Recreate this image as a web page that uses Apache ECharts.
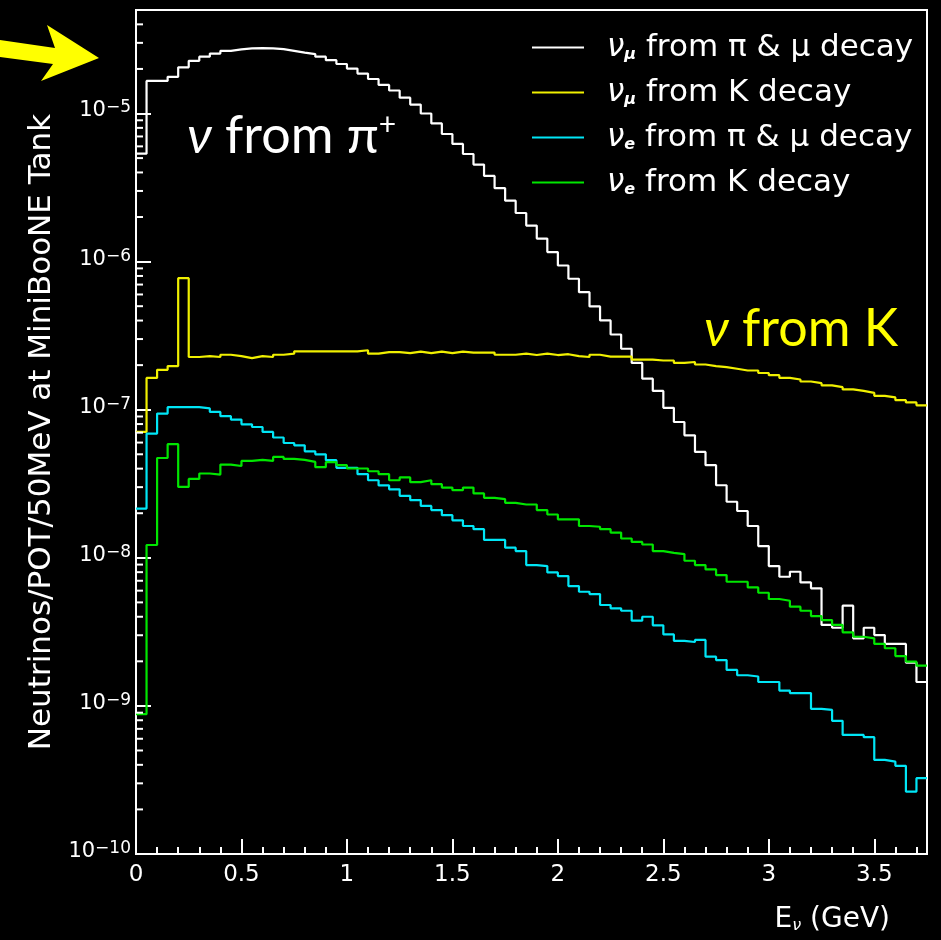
<!DOCTYPE html>
<html>
<head>
<meta charset="utf-8">
<script src="https://cdn.jsdelivr.net/npm/echarts@6/dist/echarts.min.js"></script>
<style>
  html, body { margin: 0; padding: 0; background: #000; }
  #chart { width: 941px; height: 940px; }
</style>
</head>
<body>
<div id="chart"></div>
<script>
// Neutrino flux per 50 MeV bin, 0 - 3.75 GeV (75 bins)
const binWidth = 0.05; // GeV
const xMax = 3.75;
const yMin = 1e-10;
const yMax = 5e-5;
const yDecades = [-10, -9, -8, -7, -6, -5];
const xTickLabels = ['0', '0.5', '1', '1.5', '2', '2.5', '3', '3.5'];

const numuPiMu = [
  5.36e-6, 1.66e-5, 1.66e-5, 1.77e-5, 2.05e-5, 2.27e-5, 2.42e-5, 2.54e-5, 2.65e-5, 2.71e-5,
  2.75e-5, 2.76e-5, 2.75e-5, 2.72e-5, 2.65e-5, 2.58e-5, 2.52e-5, 2.42e-5, 2.29e-5, 2.16e-5,
  2.01e-5, 1.86e-5, 1.71e-5, 1.56e-5, 1.43e-5, 1.28e-5, 1.15e-5, 1.00e-5, 8.57e-6, 7.27e-6,
  6.23e-6, 5.33e-6, 4.52e-6, 3.79e-6, 3.13e-6, 2.58e-6, 2.13e-6, 1.75e-6, 1.43e-6, 1.16e-6,
  9.41e-7, 7.66e-7, 6.22e-7, 4.98e-7, 4.01e-7, 3.22e-7, 2.58e-7, 2.07e-7, 1.62e-7, 1.34e-7,
  1.03e-7, 8.26e-8, 6.71e-8, 5.19e-8, 4.22e-8, 3.09e-8, 2.39e-8, 2.07e-8, 1.64e-8, 1.20e-8,
  8.79e-9, 7.45e-9, 8.05e-9, 6.82e-9, 6.22e-9, 3.52e-9, 3.37e-9, 4.75e-9, 2.86e-9, 3.37e-9,
  3.01e-9, 2.62e-9, 2.62e-9, 1.96e-9, 1.45e-9
];

const numuK = [
  7.09e-8, 1.64e-7, 1.86e-7, 1.97e-7, 7.73e-7, 2.27e-7, 2.30e-7, 2.27e-7, 2.35e-7, 2.30e-7,
  2.23e-7, 2.30e-7, 2.27e-7, 2.35e-7, 2.39e-7, 2.48e-7, 2.48e-7, 2.48e-7, 2.48e-7, 2.48e-7,
  2.48e-7, 2.52e-7, 2.39e-7, 2.45e-7, 2.45e-7, 2.41e-7, 2.47e-7, 2.41e-7, 2.47e-7, 2.41e-7,
  2.47e-7, 2.43e-7, 2.43e-7, 2.43e-7, 2.35e-7, 2.35e-7, 2.39e-7, 2.34e-7, 2.39e-7, 2.34e-7,
  2.37e-7, 2.30e-7, 2.27e-7, 2.35e-7, 2.28e-7, 2.28e-7, 2.28e-7, 2.18e-7, 2.18e-7, 2.15e-7,
  2.15e-7, 2.07e-7, 2.10e-7, 2.02e-7, 1.97e-7, 1.94e-7, 1.89e-7, 1.84e-7, 1.84e-7, 1.77e-7,
  1.71e-7, 1.64e-7, 1.60e-7, 1.55e-7, 1.51e-7, 1.46e-7, 1.42e-7, 1.37e-7, 1.34e-7, 1.30e-7,
  1.24e-7, 1.21e-7, 1.16e-7, 1.12e-7, 1.07e-7
];

const nuePiMu = [
  2.15e-8, 6.90e-8, 9.42e-8, 1.04e-7, 1.04e-7, 1.04e-7, 1.02e-7, 9.66e-8, 9.04e-8, 8.58e-8,
  7.97e-8, 7.64e-8, 7.08e-8, 6.49e-8, 5.96e-8, 5.75e-8, 5.24e-8, 5.00e-8, 4.56e-8, 4.05e-8,
  4.05e-8, 3.67e-8, 3.34e-8, 3.08e-8, 2.90e-8, 2.62e-8, 2.45e-8, 2.24e-8, 2.10e-8, 1.94e-8,
  1.79e-8, 1.64e-8, 1.56e-8, 1.32e-8, 1.32e-8, 1.17e-8, 1.11e-8, 8.93e-9, 8.79e-9, 7.97e-9,
  7.53e-9, 6.44e-9, 5.90e-9, 5.69e-9, 4.80e-9, 4.56e-9, 4.39e-9, 3.76e-9, 4.00e-9, 3.50e-9,
  3.04e-9, 2.75e-9, 2.70e-9, 2.79e-9, 2.15e-9, 2.04e-9, 1.75e-9, 1.61e-9, 1.58e-9, 1.45e-9,
  1.45e-9, 1.27e-9, 1.22e-9, 1.22e-9, 9.55e-10, 9.39e-10, 7.93e-10, 6.37e-10, 6.37e-10, 6.15e-10,
  4.32e-10, 4.21e-10, 3.94e-10, 2.64e-10, 3.25e-10
];

const nueK = [
  8.79e-10, 1.22e-8, 4.72e-8, 5.85e-8, 3.01e-8, 3.41e-8, 3.71e-8, 3.65e-8, 4.26e-8, 4.17e-8,
  4.51e-8, 4.58e-8, 4.51e-8, 4.80e-8, 4.65e-8, 4.58e-8, 4.44e-8, 4.09e-8, 4.42e-8, 4.22e-8,
  4.01e-8, 4.01e-8, 3.84e-8, 3.67e-8, 3.34e-8, 3.49e-8, 3.24e-8, 3.34e-8, 3.14e-8, 2.98e-8,
  2.86e-8, 2.98e-8, 2.72e-8, 2.54e-8, 2.49e-8, 2.35e-8, 2.29e-8, 2.29e-8, 2.10e-8, 1.96e-8,
  1.82e-8, 1.82e-8, 1.64e-8, 1.62e-8, 1.56e-8, 1.48e-8, 1.35e-8, 1.28e-8, 1.23e-8, 1.11e-8,
  1.08e-8, 1.06e-8, 9.55e-9, 8.93e-9, 8.35e-9, 7.64e-9, 6.89e-9, 6.89e-9, 6.31e-9, 5.81e-9,
  5.27e-9, 5.13e-9, 4.68e-9, 4.39e-9, 4.04e-9, 3.80e-9, 3.52e-9, 3.14e-9, 2.93e-9, 2.86e-9,
  2.62e-9, 2.45e-9, 2.17e-9, 1.99e-9, 1.87e-9
];

const seriesNames = [
  'ν_μ from π & μ decay',
  'ν_μ from K decay',
  'ν_e from π & μ decay',
  'ν_e from K decay'
];
const seriesColors = ['#ffffff', '#f0f000', '#00e6f6', '#00e600'];

const FONT = 'DejaVu Sans';

// Histogram contents as left-edge points plus the closing edge, drawn as steps
function histSteps(values) {
  const pts = values.map((v, i) => [+(i * binWidth).toFixed(2), v]);
  pts.push([+(values.length * binWidth).toFixed(2), values[values.length - 1]]);
  return pts;
}

// Log-axis minor ticks at 2..9 x 10^n
const yMinorTicks = [];
yDecades.forEach(d => {
  for (let m = 2; m <= 9; m++) {
    const v = m * Math.pow(10, d);
    if (v < yMax) yMinorTicks.push([0, v]);
  }
});

function legendLabel(name) {
  const m = name.match(/^ν_(\S+)(.*)$/);
  if (!m) return '{t|' + name + '}';
  return '{g|ν}{s|' + m[1] + '}{t|' + m[2] + '}';
}

const chart = echarts.init(document.getElementById('chart'), null, { renderer: 'canvas' });

const histSeries = [numuPiMu, numuK, nuePiMu, nueK].map((vals, i) => ({
  name: seriesNames[i],
  type: 'line',
  step: 'end',
  data: histSteps(vals),
  showSymbol: false,
  symbol: 'none',
  color: seriesColors[i],
  lineStyle: { color: seriesColors[i], width: 2.2 },
  z: 3 + i,
  silent: true
}));

chart.setOption({
  animation: false,
  backgroundColor: '#000000',
  grid: {
    left: 136, right: 14, top: 10, bottom: 86,
    show: true, borderColor: '#ffffff', borderWidth: 2, backgroundColor: 'transparent'
  },
  legend: {
    orient: 'vertical',
    left: 527,
    top: 27,
    itemWidth: 52,
    itemHeight: 2,
    itemGap: 14,
    icon: 'rect',
    data: seriesNames,
    formatter: legendLabel,
    textStyle: {
      color: '#ffffff',
      fontFamily: FONT,
      fontSize: 31,
      lineHeight: 30,
      padding: [0, 0, 0, 18],
      rich: {
        g: { fontFamily: FONT, fontSize: 31, lineHeight: 30, fontStyle: 'italic', color: '#ffffff' },
        s: { fontFamily: FONT, fontSize: 16, lineHeight: 30, fontStyle: 'italic', fontWeight: 'bold', color: '#ffffff', verticalAlign: 'bottom', padding: [13, 0, 0, 0] },
        t: { fontFamily: FONT, fontSize: 31, lineHeight: 30, color: '#ffffff' }
      }
    }
  },
  xAxis: {
    type: 'value',
    min: 0,
    max: xMax,
    interval: 0.5,
    name: '{a|E}{s|ν}{a| (GeV)}',
    nameLocation: 'end',
    nameGap: -37,
    nameTextStyle: {
      align: 'right',
      verticalAlign: 'top',
      padding: [52, 0, 0, 0],
      rich: {
        a: { fontFamily: FONT, fontSize: 28, color: '#ffffff' },
        s: { fontFamily: FONT, fontSize: 16, fontStyle: 'italic', color: '#ffffff', verticalAlign: 'bottom', padding: [12, 0, 0, 0] }
      }
    },
    axisLine: { show: true, lineStyle: { color: '#ffffff', width: 2 } },
    axisTick: { show: true, inside: true, length: 15, lineStyle: { color: '#ffffff', width: 2 } },
    minorTick: { show: true, splitNumber: 5, length: 7, lineStyle: { color: '#ffffff', width: 2 } },
    splitLine: { show: false },
    axisLabel: {
      color: '#ffffff',
      fontFamily: FONT,
      fontSize: 23,
      margin: 10,
      showMaxLabel: false,
      formatter: v => {
        const idx = Math.round(v / 0.5);
        return Math.abs(v - idx * 0.5) < 1e-9 && xTickLabels[idx] !== undefined ? xTickLabels[idx] : '';
      }
    }
  },
  yAxis: {
    type: 'log',
    logBase: 10,
    min: yMin,
    max: yMax,
    name: 'Neutrinos/POT/50MeV at MiniBooNE Tank',
    nameLocation: 'middle',
    nameGap: 78,
    nameTextStyle: { color: '#ffffff', fontFamily: FONT, fontSize: 31 },
    axisLine: { show: true, lineStyle: { color: '#ffffff', width: 2 } },
    axisTick: { show: true, inside: true, length: 15, lineStyle: { color: '#ffffff', width: 2 } },
    splitLine: { show: false },
    axisLabel: {
      color: '#ffffff',
      fontFamily: FONT,
      fontSize: 21,
      margin: 5,
      padding: [0, 0, 6, 0],
      showMaxLabel: false,
      formatter: v => {
        const e = Math.round(Math.log10(v));
        if (Math.abs(v / Math.pow(10, e) - 1) > 1e-6) return '';
        return '{b|10}{e|' + String(e).replace('-', '−') + '}';
      },
      rich: {
        b: { fontFamily: FONT, fontSize: 21, lineHeight: 22, color: '#ffffff', verticalAlign: 'bottom' },
        e: { fontFamily: FONT, fontSize: 17, lineHeight: 17, color: '#ffffff', verticalAlign: 'top' }
      }
    }
  },
  series: [
    {
      name: 'minor ticks',
      type: 'custom',
      data: yMinorTicks,
      silent: true,
      clip: false,
      z: 10,
      renderItem: (params, api) => {
        const p = api.coord([0, api.value(1)]);
        return {
          type: 'line',
          shape: { x1: p[0], y1: p[1], x2: p[0] + 7, y2: p[1] },
          style: { stroke: '#ffffff', lineWidth: 2 }
        };
      }
    },
    ...histSeries
  ],
  graphic: [
    {
      type: 'polygon',
      shape: { points: [[0, 40], [55, 48], [47, 25], [99, 58], [41, 81], [53, 64], [0, 57]] },
      style: { fill: '#ffff00' },
      silent: true
    },
    {
      type: 'text',
      left: 187,
      top: 110,
      silent: true,
      style: {
        text: '{n|ν}{a| from π}{p|+}',
        rich: {
          n: { fontFamily: 'Lato', fontSize: 52, fontStyle: 'italic', fill: '#ffffff' },
          a: { fontFamily: 'Lato', fontSize: 52, fill: '#ffffff' },
          p: { fontFamily: 'Lato', fontSize: 30, fill: '#ffffff', verticalAlign: 'top' }
        }
      }
    },
    {
      type: 'text',
      left: 704,
      top: 303,
      silent: true,
      style: {
        text: '{n|ν}{a| from K}',
        rich: {
          n: { fontFamily: 'Lato', fontSize: 52, fontStyle: 'italic', fill: '#ffff00' },
          a: { fontFamily: 'Lato', fontSize: 52, fill: '#ffff00' }
        }
      }
    }
  ]
});
</script>
</body>
</html>
